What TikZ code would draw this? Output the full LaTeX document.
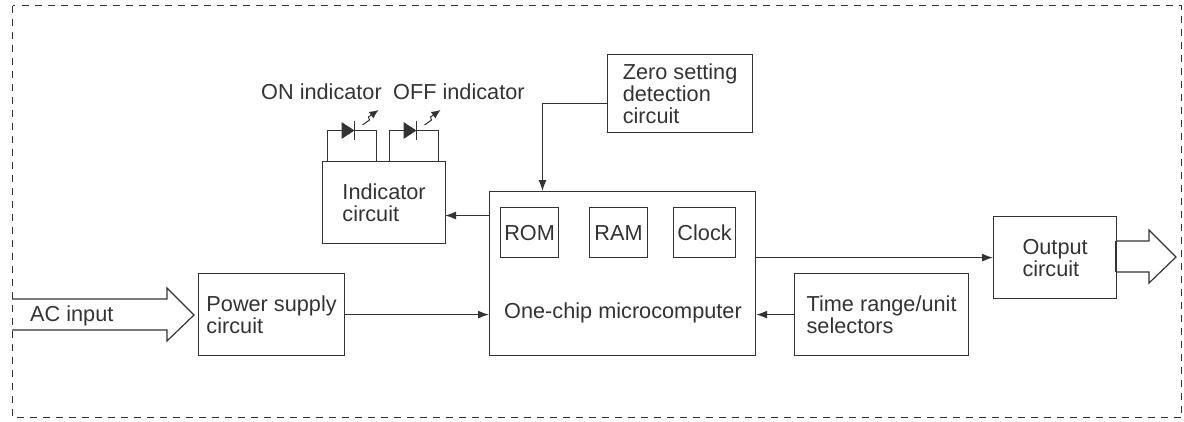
\documentclass[tikz,border=0pt]{standalone}
\usepackage{fontspec}
\setmainfont{Liberation Sans}
\usetikzlibrary{arrows.meta}
\definecolor{inkline}{gray}{0.2}
\tikzset{
  blockbox/.style={draw=inkline,text=inkline,line width=1.2pt,align=left,inner sep=0pt,anchor=north west},
  txt/.style={inner sep=0pt,align=left,text=inkline},
  sig/.style={draw=inkline,line width=1.2pt,-{Latex[length=11pt,width=8pt]}},
  wire/.style={draw=inkline,line width=1.2pt},
}
\begin{document}
\begin{tikzpicture}[x=1pt,y=-1pt,font=\fontsize{21.7}{22}\selectfont]
\useasboundingbox (0,0) rectangle (1184,421);
\draw[wire,line width=1.1pt,dash pattern=on 7pt off 6pt] (12.5,5.5) rectangle (1181.5,417.5);
% blocks
\node[blockbox,minimum width=145pt,minimum height=78pt] (zero) at (607,54) {Zero setting\\detection\\circuit};
\node[blockbox,minimum width=123pt,minimum height=82pt] (indicator) at (322,161) {Indicator\\circuit};
\node[blockbox,minimum width=266pt,minimum height=164pt] (micro) at (489,191) {};
\node[blockbox,minimum width=58pt,minimum height=50pt] (rom) at (500,207) {ROM};
\node[blockbox,minimum width=58pt,minimum height=50pt] (ram) at (589,207) {RAM};
\node[blockbox,minimum width=62pt,minimum height=50pt] (clock) at (673,207) {Clock};
\node[txt] (chip) at (623,313) {One-chip microcomputer};
\node[blockbox,minimum width=146pt,minimum height=82pt] (power) at (198,273) {Power supply\\circuit};
\node[blockbox,minimum width=174pt,minimum height=82pt] (time) at (794,273) {Time range/unit\\selectors};
\node[blockbox,minimum width=123pt,minimum height=82pt] (output) at (993,216) {Output\\circuit};
\node[txt,anchor=west] (acin) at (30,316) {AC input};
\node[txt,anchor=west] (onlabel) at (261,92) {ON indicator};
\node[txt,anchor=west] (offlabel) at (393,92) {OFF indicator};
% connectors
\coordinate (zeroout) at (607,103.5);
\coordinate (microtop) at (542.5,191);
\coordinate (microleft) at (489,215.5);
\coordinate (indright) at (445,215.5);
\draw[sig] (zeroout) -| (microtop);
\draw[sig] (microleft) -- (indright);
\draw[sig] (power.east) -- (power.east -| micro.west);
\draw[sig] (time.west) -- (time.west -| micro.east);
\draw[sig] (output.west -| micro.east) -- (output.west);
% input and output arrows
\draw[wire,line join=miter] (12,299) -- (167,299) -- (167,288) -- (194,315) -- (167,341) -- (167,330) -- (12,330);
\draw[wire,line join=miter] (1116,241) -- (1149,241) -- (1149,230) -- (1176,257) -- (1149,283) -- (1149,272) -- (1116,272);
\draw[draw=inkline,line width=2.5pt] (1116,241) -- (1116,272);
% indicator LEDs
\foreach \x in {327.5,389.5} {
\draw[wire] (\x,161) -- (\x,130.5) -- (\x+14,130.5);
\draw[wire] (\x+27,130.5) -- (\x+49,130.5) -- (\x+49,161);
\fill[inkline] (\x+14,122) -- (\x+27,130.5) -- (\x+14,139) -- cycle;
\draw[wire,line width=1.5pt] (\x+27,121) -- (\x+27,140);
\draw[draw=inkline,line width=1pt,-{Latex[length=9pt,width=8pt]}] (\x+35,125) -- (\x+42,120) -- (\x+41,117) -- (\x+51,110);
}
\end{tikzpicture}
\end{document}
